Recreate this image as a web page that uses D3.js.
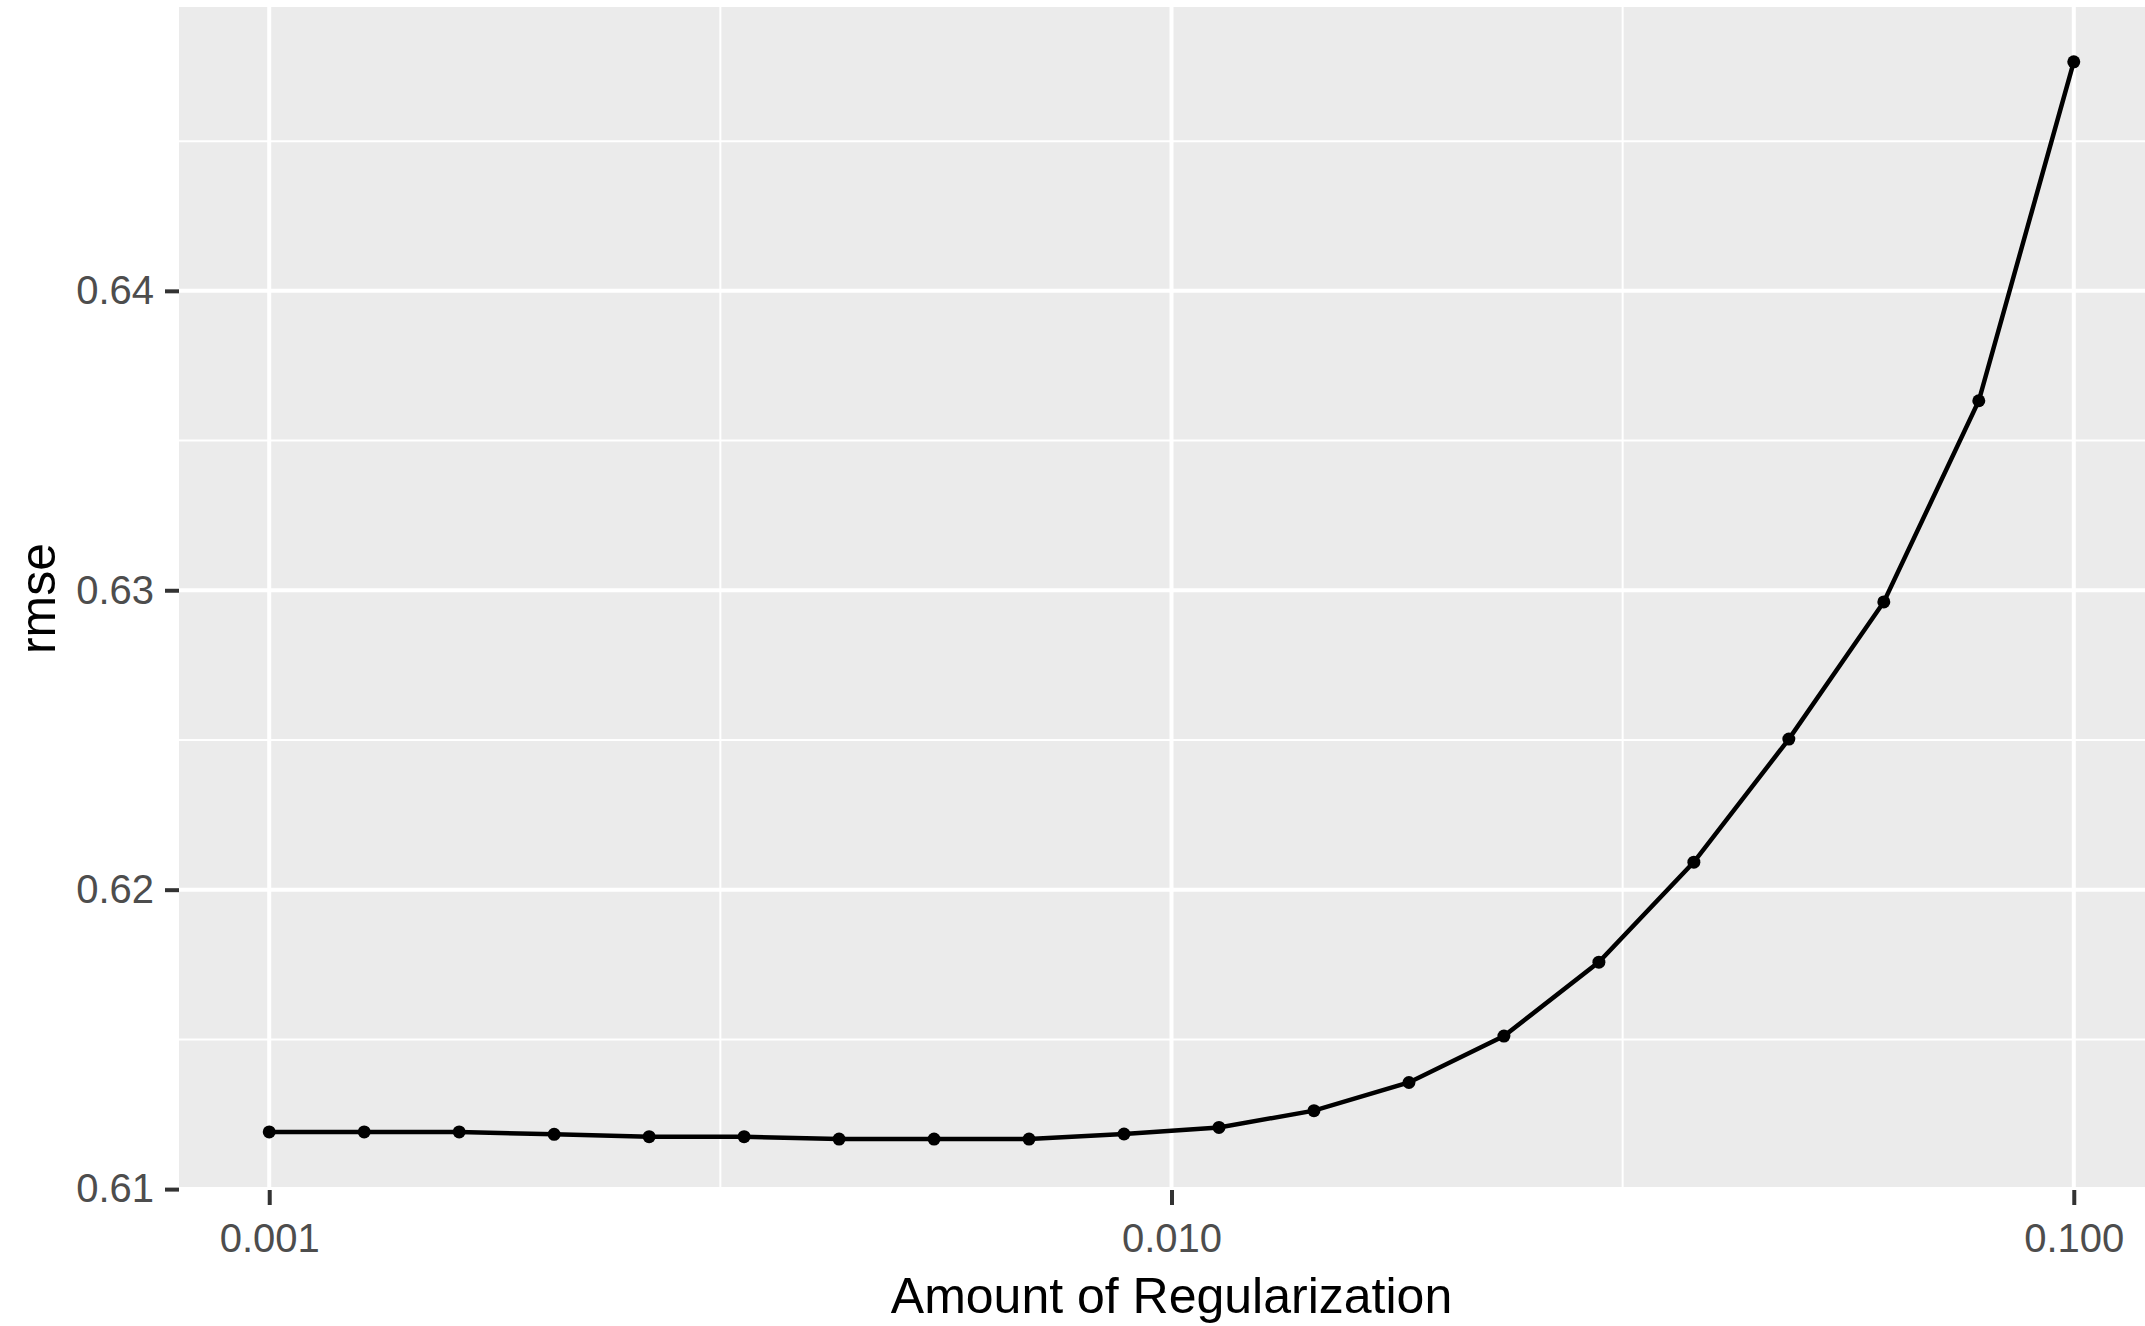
<!DOCTYPE html>
<html>
<head>
<meta charset="utf-8">
<script src="https://cdn.jsdelivr.net/npm/d3@7"></script>
<style>
  body { margin: 0; background: #fff; }
  svg { display: block; font-family: "Liberation Sans", Arial, sans-serif; }
  .axis text { fill: #4d4d4d; font-size: 40px; }
  .axis line { stroke: #333; stroke-width: 4; }
  .axis .domain { display: none; }
</style>
</head>
<body>
<svg width="2145" height="1326"></svg>
<script>
// penalty grid (x) and resampled rmse (y)
var penalty = [0.001, 0.0012743, 0.0016238, 0.0020691, 0.0026367, 0.0033598, 0.0042813,
  0.0054556, 0.0069519, 0.0088587, 0.011288, 0.014384, 0.018330, 0.023357, 0.029764,
  0.037927, 0.048329, 0.061585, 0.078476, 0.1];
var rmse = [0.61191, 0.61191, 0.61191, 0.61183, 0.61175, 0.61175, 0.61167, 0.61167,
  0.61167, 0.61184, 0.61206, 0.61262, 0.61356, 0.61511, 0.61758, 0.62092, 0.62503,
  0.62961, 0.63633, 0.64765];
var xTicks = [0.001, 0.01, 0.1],
    xMinor = [0.001 * Math.sqrt(10), 0.01 * Math.sqrt(10)],
    yTicks = [0.61, 0.62, 0.63, 0.64],
    yMinor = [0.615, 0.625, 0.635, 0.645];

var svg = d3.select("svg"),
    panel = {left: 179, top: 7, right: 2164, bottom: 1190};

var data = penalty.map(function(p, i) { return {penalty: p, rmse: rmse[i]}; });

// log x with 5% expansion, like ggplot
var lx = [Math.log10(d3.min(penalty)), Math.log10(d3.max(penalty))],
    px = (lx[1] - lx[0]) * 0.05;
var x = d3.scaleLog()
    .domain([Math.pow(10, lx[0] - px), Math.pow(10, lx[1] + px)])
    .range([panel.left, panel.right]);

// y limits as ggplot computed them
var y = d3.scaleLinear()
    .domain([0.60997, 0.64948])
    .range([panel.bottom, panel.top]);

svg.append("rect")
    .attr("x", panel.left)
    .attr("y", panel.top)
    .attr("width", panel.right - panel.left)
    .attr("height", panel.bottom - panel.top)
    .attr("fill", "#ebebeb");

var grid = svg.append("g").attr("stroke", "#fff");

grid.selectAll(".ymin").data(yMinor).enter().append("line")
    .attr("x1", panel.left).attr("x2", panel.right)
    .attr("y1", y).attr("y2", y)
    .attr("stroke-width", 2);
grid.selectAll(".xmin").data(xMinor).enter().append("line")
    .attr("y1", panel.top).attr("y2", panel.bottom)
    .attr("x1", x).attr("x2", x)
    .attr("stroke-width", 2);
grid.selectAll(".ymaj").data(yTicks).enter().append("line")
    .attr("x1", panel.left).attr("x2", panel.right)
    .attr("y1", y).attr("y2", y)
    .attr("stroke-width", 4);
grid.selectAll(".xmaj").data(xTicks).enter().append("line")
    .attr("y1", panel.top).attr("y2", panel.bottom)
    .attr("x1", x).attr("x2", x)
    .attr("stroke-width", 4);

var line = d3.line()
    .x(function(d) { return x(d.penalty); })
    .y(function(d) { return y(d.rmse); });

svg.append("path")
    .datum(data)
    .attr("d", line)
    .attr("fill", "none")
    .attr("stroke", "#000")
    .attr("stroke-width", 4.5);

svg.selectAll(".pt")
    .data(data)
  .enter().append("circle")
    .attr("class", "pt")
    .attr("cx", function(d) { return x(d.penalty); })
    .attr("cy", function(d) { return y(d.rmse); })
    .attr("r", 6.5)
    .attr("fill", "#000");

svg.append("g")
    .attr("class", "axis")
    .attr("transform", "translate(0," + panel.bottom + ")")
    .call(d3.axisBottom(x).tickValues(xTicks).tickFormat(d3.format(".3f"))
      .tickSize(15).tickPadding(19));

svg.append("g")
    .attr("class", "axis")
    .attr("transform", "translate(" + panel.left + ",0)")
    .call(d3.axisLeft(y).tickValues(yTicks).tickFormat(d3.format(".2f"))
      .tickSize(14).tickPadding(11));

svg.selectAll(".axis").attr("font-size", null).attr("font-family", null);

svg.append("text")
    .attr("x", (panel.left + panel.right) / 2)
    .attr("y", 1313)
    .attr("text-anchor", "middle")
    .attr("font-size", 50)
    .attr("fill", "#000")
    .text("Amount of Regularization");

svg.append("text")
    .attr("transform", "translate(55," + (panel.top + panel.bottom) / 2 + ") rotate(-90)")
    .attr("text-anchor", "middle")
    .attr("font-size", 50)
    .attr("fill", "#000")
    .text("rmse");
</script>
</body>
</html>
